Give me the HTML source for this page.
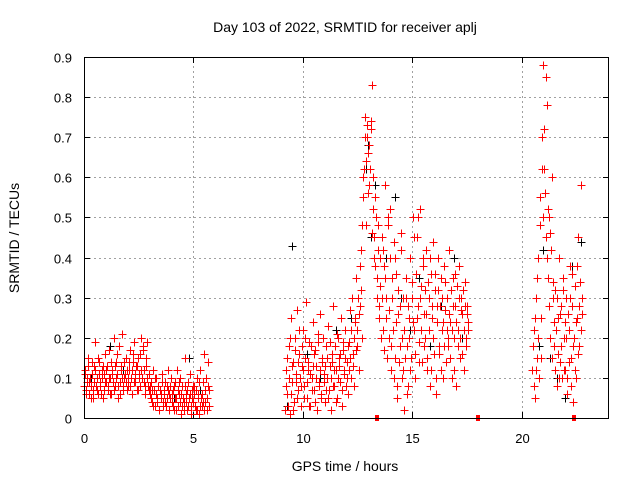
<!DOCTYPE html>
<html><head><meta charset="utf-8"><style>
body{margin:0;background:#fff;}
svg{display:block;font-family:"Liberation Sans",sans-serif;}
</style></head><body>
<svg id="chart" width="640" height="480" viewBox="0 0 640 480" xmlns="http://www.w3.org/2000/svg">
<rect width="640" height="480" fill="#fff"/>
<text x="345" y="32" font-size="14" text-anchor="middle" fill="#000">Day 103 of 2022, SRMTID for receiver aplj</text>
<text x="345" y="471" font-size="14" text-anchor="middle" fill="#000">GPS time / hours</text>
<text transform="translate(19,238) rotate(-90)" font-size="14" text-anchor="middle" fill="#000">SRMTID / TECUs</text>
<g id="grid" shape-rendering="crispEdges"></g>
<g id="ticks"></g>
<g id="black" shape-rendering="crispEdges"></g>
<g id="red" shape-rendering="crispEdges"></g>
<rect x="84.5" y="57.5" width="524" height="361" fill="none" stroke="#000" stroke-width="1" shape-rendering="crispEdges"/>
</svg>
<script>
const xTicks = [0,5,10,15,20];
const yTicks = [0,0.1,0.2,0.3,0.4,0.5,0.6,0.7,0.8,0.9];
const yTickLabels = ["0","0.1","0.2","0.3","0.4","0.5","0.6","0.7","0.8","0.9"];
const segStart = [0, 9.2, 20.5];
const segStartB = [0.025, 9.225, 20.525];
const segStep = 0.05;
const redSeg1 = [.08,.12,.06,.10,.15,.09,.05,.11,.07,.13,.19,.08,.10,.06,.14,.09,.12,.05,.11,.16,
.09,.13,.07,.17,.10,.06,.12,.20,.08,.14,.11,.05,.18,.09,.13,.21,.07,.10,.15,.12,
.08,.12,.17,.10,.06,.14,.19,.09,.13,.07,.11,.16,.20,.10,.18,.12,.08,.15,.19,.11,
.06,.09,.04,.12,.07,.03,.10,.05,.08,.02,.06,.11,.04,.07,.09,.03,.05,.12,.06,.08,
.04,.07,.02,.09,.05,.12,.03,.06,.10,.01,.08,.04,.15,.06,.02,.09,.05,.11,.03,.07,
.04,.08,.02,.10,.06,.01,.12,.05,.03,.09,.16,.04,.02,.14,.07];
const redSeg1b = [.11,.07,.09,.13,.06,.10,.08,.14,.05,.09,.12,.07,.15,.11,.08,.06,.10,.13,.07,.09,
.12,.08,.10,.06,.14,.11,.09,.07,.13,.10,.16,.08,.06,.12,.10,.08,.14,.11,.09,.07,
.10,.14,.08,.12,.16,.09,.11,.13,.07,.15,.10,.08,.12,.17,.09,.06,.13,.10,.08,.07,
.08,.05,.07,.03,.10,.06,.04,.08,.02,.07,.05,.09,.03,.06,.04,.08,.07,.02,.05,.10,
.06,.03,.08,.05,.02,.07,.09,.04,.06,.03,.05,.02,.08,.04,.07,.03,.06,.01,.05,.08,
.06,.03,.07,.02,.05,.09,.03,.06,.04,.02,.07,.10,.05,.08,.03];
const redSeg2 = [.02,.12,.06,.18,.01,.25,.09,.14,.04,.20,.11,.27,.07,.16,.03,.13,
.22,.08,.15,.29,.05,.12,.19,.03,.10,.24,.07,.17,.13,.02,.21,.09,.26,.06,.14,.11,
.04,.18,.10,.23,.07,.13,.02,.16,.28,.08,.12,.05,.20,.15,.09,.25,.03,.17,.11,.22,
.14,.06,.19,.27,.10,.30,.16,.08,.24,.35,.18,.12,.28,.42,.20,.55,
.62,.75,.48,.70,.66,.58,.72,.83,.52,.45,.38,.50,.30,.42,.25,.33,
.45,.22,.38,.58,.30,.15,.48,.27,.52,.18,.35,.10,.40,.24,.05,.32,.14,.28,.46,.20,
.12,.02,.30,.18,.08,.25,.40,.15,.34,.50,.22,.10,.45,.28,.19,.52,.33,.14,.38,.26,
.20,.42,.12,.30,.08,.36,.25,.44,.16,.32,.06,.28,.40,.18,.35,.22,.10,.38,.27,.14,
.30,.18,.42,.24,.10,.35,.20,.28,.08,.33,.22,.38,.15,.30,.26,.12,.34,.20,.28,.24];
const redSeg2b = [.08,.15,.03,.10,.20,.06,.13,.02,.17,.09,.05,.14,.22,.10,.08,.18,
.12,.05,.20,.09,.14,.03,.11,.18,.07,.13,.16,.04,.10,.19,.08,.12,.05,.15,.20,.09,
.13,.07,.15,.05,.19,.10,.14,.08,.12,.18,.04,.21,.10,.13,.16,.07,.19,.12,.15,.08,
.10,.18,.12,.15,.22,.13,.20,.25,.17,.22,.30,.26,.38,.32,.48,.60,
.70,.64,.73,.56,.68,.62,.74,.46,.60,.40,.55,.35,.48,.28,.40,.20,
.30,.42,.17,.35,.25,.50,.20,.40,.12,.30,.22,.44,.15,.36,.08,.26,.18,.42,.10,.30,
.22,.15,.35,.06,.28,.20,.12,.30,.24,.45,.16,.36,.25,.50,.14,.30,.22,.40,.18,.32,
.26,.15,.34,.22,.40,.12,.28,.20,.36,.10,.24,.32,.16,.28,.12,.30,.24,.18,.34,.22,
.20,.26,.15,.32,.22,.28,.12,.36,.24,.18,.30,.20,.27,.16,.32,.22,.28,.18,.26,.22];
const redSeg3 = [.12,.22,.05,.30,.15,.40,.10,.55,.25,.70,
.88,.62,.45,.78,.35,.50,.20,.42,.60,.30,
.18,.32,.08,.25,.40,.14,.28,.10,.35,.20,
.12,.30,.06,.22,.38,.15,.28,.04,.20,.33,.10,.25,.45,.18,.58,.30];
const redSeg3b = [.18,.08,.25,.12,.35,.20,.48,.15,.62,.50,
.72,.56,.85,.40,.52,.28,.46,.15,.34,.24,
.12,.22,.30,.16,.10,.26,.18,.32,.12,.24,
.20,.10,.26,.14,.30,.08,.36,.18,.12,.24,.38,.16,.28,.34,.22,.26];
const blackTimes = [0.3,1.2,1.8,2.6,3.4,4.1,4.8,5.3,9.3,9.5,10.2,10.8,11.5,12.2,12.9,13.0,13.1,13.3,13.8,14.2,14.5,14.9,15.3,15.8,16.3,16.9,17.3,20.8,21.0,21.3,21.6,22.0,22.3,22.7];
const blackValues = [.10,.18,.12,.20,.08,.05,.15,.07,.03,.43,.16,.10,.22,.25,.62,.68,.45,.58,.40,.55,.30,.22,.35,.18,.28,.40,.20,.18,.42,.15,.10,.05,.38,.44];
const zeroMarkTimes = [13.4, 18.0, 22.4];

const X0=84, X1=609, Y0=418, Y1=57, XMAX=24, YMAX=0.9;
function xs(t){return X0+(X1-X0)*t/XMAX;}
function ys(v){return Y0-(Y0-Y1)*v/YMAX;}
const NS="http://www.w3.org/2000/svg";
function mk(tag,attrs,parent){const e=document.createElementNS(NS,tag);for(const k in attrs)e.setAttribute(k,attrs[k]);parent.appendChild(e);return e;}
const grid=document.getElementById('grid'), ticks=document.getElementById('ticks');
yTicks.forEach((v,i)=>{
  const y=Math.round(ys(v))+0.5;
  if(i>0&&i<yTicks.length-1){const g=mk('line',{x1:X0,x2:X1,y1:y,y2:y,stroke:'#a0a0a0','stroke-dasharray':'2,3','stroke-width':1},grid);
  
  }
  mk('line',{x1:X0,x2:X0+6,y1:y,y2:y,stroke:'#000'},ticks);
  mk('line',{x1:X1,x2:X1-6,y1:y,y2:y,stroke:'#000'},ticks);
  const t=mk('text',{x:72,y:y+5,'font-size':13,'text-anchor':'end',fill:'#000'},ticks);
  t.textContent=yTickLabels[i];
  
  
});
xTicks.forEach((v,i)=>{
  const x=Math.round(xs(v))+0.5;
  if(i>0){const g=mk('line',{x1:x,x2:x,y1:Y0,y2:Y1,stroke:'#a0a0a0','stroke-dasharray':'2,3','stroke-width':1},grid);
  
  }
  mk('line',{x1:x,x2:x,y1:Y0,y2:Y0-6,stroke:'#000'},ticks);
  mk('line',{x1:x,x2:x,y1:Y1,y2:Y1+6,stroke:'#000'},ticks);
  const t=mk('text',{x:x,y:443,'font-size':13,'text-anchor':'middle',fill:'#000'},ticks);
  t.textContent=String(v);
  
  
});
function cross(t,v,color,parent,name){
  const x=Math.round(xs(t))+0.5,y=Math.round(ys(v))+0.5;
  const p=mk('path',{d:`M${x-4},${y}H${x+4}M${x},${y-4}V${y+4}`,stroke:color,'stroke-width':1,fill:'none'},parent);
  
  
}
const blackG=document.getElementById('black'), redG=document.getElementById('red');
blackTimes.forEach((t,i)=>cross(t,blackValues[i],'#000',blackG,'black-point'));
[redSeg1,redSeg2,redSeg3].forEach((seg,s)=>seg.forEach((v,i)=>cross(segStart[s]+i*segStep,v,'#f00',redG,'red-point')));
[redSeg1b,redSeg2b,redSeg3b].forEach((seg,s)=>seg.forEach((v,i)=>cross(segStartB[s]+i*segStep,v,'#f00',redG,'red-point')));
zeroMarkTimes.forEach(t=>{
  const r=mk('rect',{x:Math.round(xs(t))-2,y:Y0-3,width:4,height:6,fill:'#f00'},redG);
  
  
});
</script>
</body></html>
